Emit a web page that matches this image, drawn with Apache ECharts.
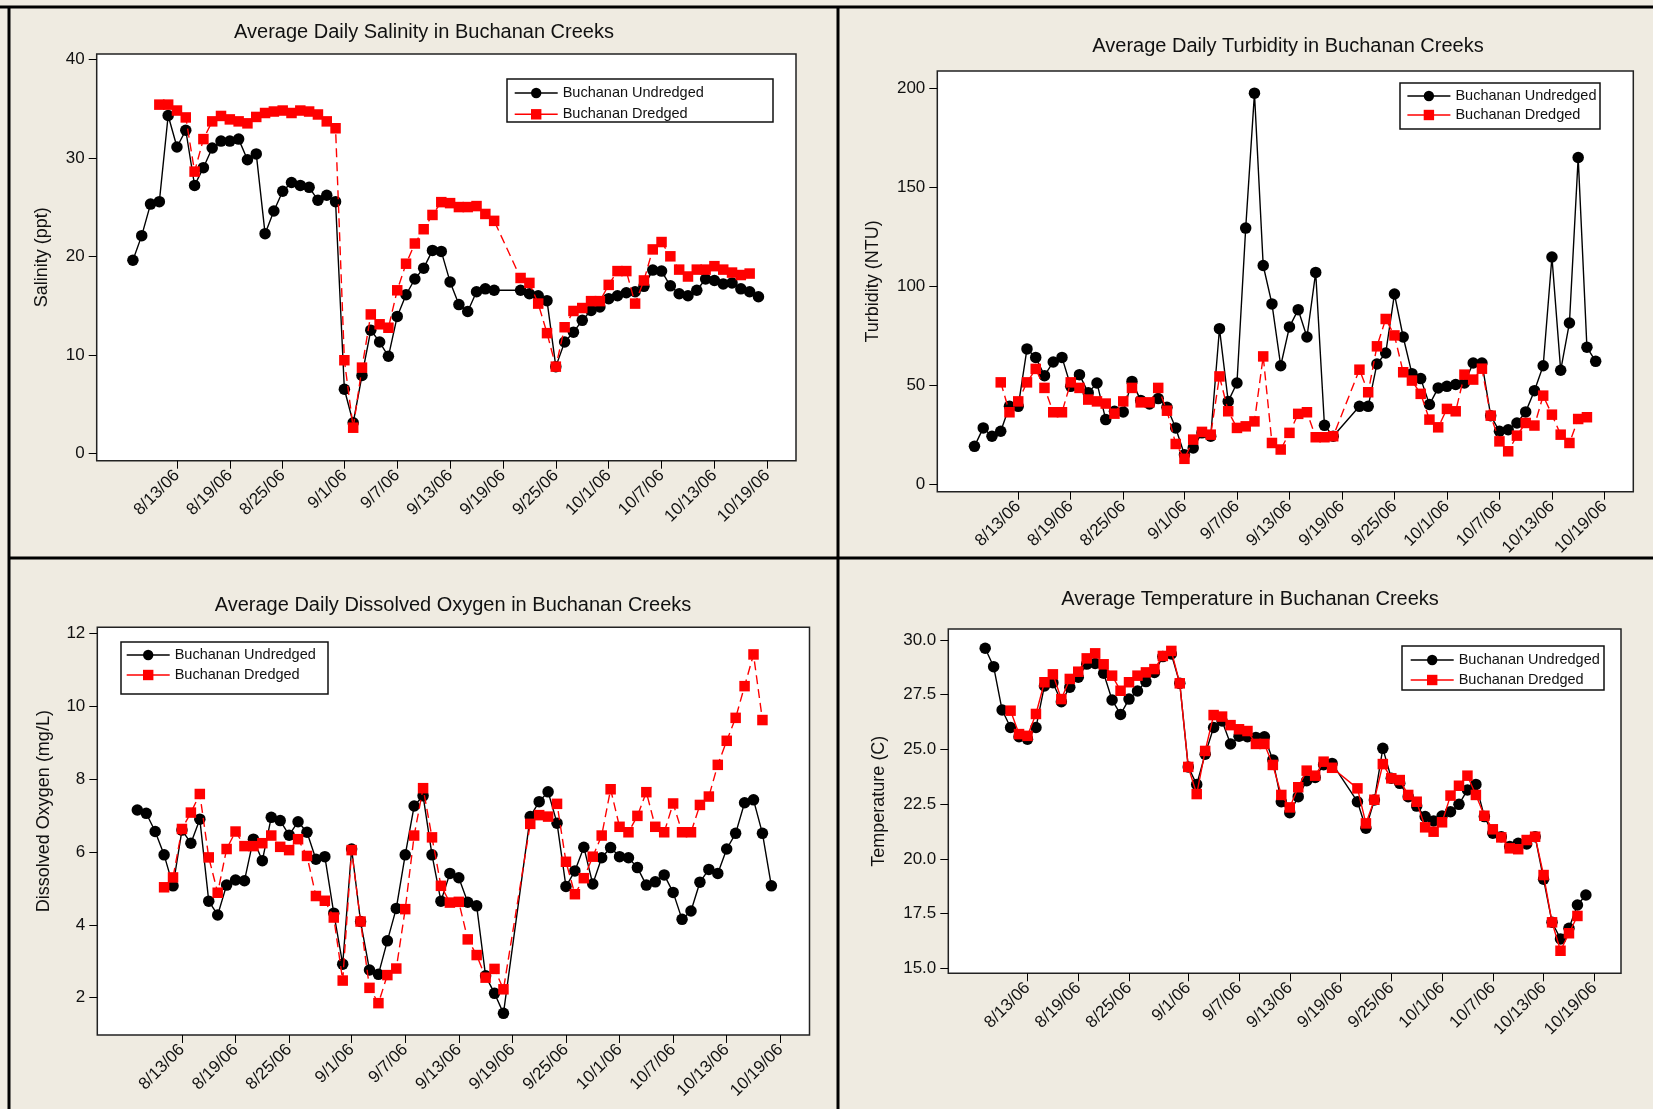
<!DOCTYPE html>
<html><head><meta charset="utf-8">
<script src="https://cdn.jsdelivr.net/npm/echarts@6/dist/echarts.min.js"></script>
<style>html,body{margin:0;padding:0;background:#efebe1;}#c{width:1653px;height:1109px;}</style>
</head><body><div id="c"></div>
<script>
// ---------- data ----------
const tickLabels = ['8/13/06','8/19/06','8/25/06','9/1/06','9/7/06','9/13/06','9/19/06','9/25/06','10/1/06','10/7/06','10/13/06','10/19/06'];
const undredgedDates = ['8/8','8/9','8/10','8/11','8/12','8/13','8/14','8/15','8/16','8/17','8/18','8/19','8/20','8/21','8/22','8/23','8/24','8/25','8/26','8/27','8/28','8/29','8/30','8/31',
 '9/1','9/2','9/3','9/4','9/5','9/6','9/7','9/8','9/9','9/10','9/11','9/12','9/13','9/14','9/15','9/16','9/17','9/18',
 '9/21','9/22','9/23','9/24','9/25','9/26','9/27','9/28','9/29','9/30','10/1','10/2','10/3','10/4','10/5','10/6','10/7','10/8','10/9','10/10','10/11','10/12','10/13','10/14','10/15','10/16','10/17','10/18'];
const dredgedDates = ['8/11','8/12','8/13','8/14','8/15','8/16','8/17','8/18','8/19','8/20','8/21','8/22','8/23','8/24','8/25','8/26','8/27','8/28','8/29','8/30','8/31',
 '9/1','9/2','9/3','9/4','9/5','9/6','9/7','9/8','9/9','9/10','9/11','9/12','9/13','9/14','9/15','9/16','9/17','9/18',
 '9/21','9/22','9/23','9/24','9/25','9/26','9/27','9/28','9/29','9/30','10/1','10/2','10/3','10/4','10/5','10/6','10/7','10/8','10/9','10/10','10/11','10/12','10/13','10/14','10/15','10/16','10/17'];

const salinityUndredged = [19.6,22.1,25.3,25.55,34.3,31.1,32.8,27.2,29.0,31.0,31.7,31.7,31.9,29.8,30.4,22.3,24.6,26.6,27.5,27.2,27.0,25.7,26.2,25.55,
 6.5,3.1,7.9,12.5,11.3,9.85,13.9,16.1,17.7,18.8,20.6,20.5,17.4,15.1,14.4,16.4,16.7,16.55,
 16.55,16.2,16.0,15.5,8.8,11.3,12.3,13.5,14.5,14.85,15.7,16.0,16.3,16.4,16.95,18.6,18.5,17.0,16.2,16.0,16.55,17.7,17.55,17.2,17.3,16.7,16.4,15.9];
const salinityDredged = [35.4,35.4,34.8,34.1,28.6,31.9,33.7,34.25,33.9,33.7,33.5,34.15,34.55,34.7,34.8,34.55,34.8,34.7,34.4,33.7,33.0,
 9.45,2.6,8.7,14.1,13.1,12.75,16.55,19.25,21.3,22.75,24.2,25.5,25.4,25.0,25.0,25.1,24.3,23.6,
 17.8,17.3,15.2,12.2,8.8,12.8,14.45,14.75,15.45,15.45,17.1,18.5,18.5,15.2,17.55,20.7,21.45,20.0,18.65,17.95,18.65,18.65,19.0,18.65,18.35,18.1,18.25];

const turbidityUndredged = [19.2,28.5,24.3,26.8,39.4,39.4,68.4,64.1,54.9,61.8,64.1,49.5,55.4,46.2,51.2,32.7,36.9,36.6,52.0,42.4,40.6,43.3,38.9,28.5,
 15.0,18.4,26.0,24.3,78.6,41.9,51.2,129.4,197.5,110.5,91.1,59.9,79.5,88.2,74.4,107.0,29.8,24.3,
 39.4,39.4,60.8,66.3,96.1,74.4,55.9,53.4,40.3,48.7,49.5,50.4,51.2,61.3,61.3,34.7,26.8,27.6,31.0,36.6,47.3,59.9,114.8,57.6,81.5,165.0,69.2,62.1];
const turbidityDredged = [51.5,36.4,41.9,51.5,58.3,48.7,36.4,36.4,51.5,48.7,42.8,41.9,40.8,35.7,41.9,48.7,41.4,41.4,48.7,37.2,20.4,
 12.9,22.6,26.5,25.1,54.5,36.9,28.5,29.3,31.8,64.6,20.9,17.6,26.0,35.6,36.4,23.8,23.8,24.3,
 57.9,46.5,69.7,83.5,75.2,56.6,52.4,45.7,32.7,28.8,38.1,36.9,55.4,52.9,58.4,34.7,21.7,16.7,24.6,31.0,29.7,44.8,35.2,25.1,20.9,33.0,33.9];

const oxygenUndredged = [7.15,7.06,6.56,5.92,5.07,6.6,6.24,6.9,4.65,4.27,5.09,5.23,5.21,6.35,5.76,6.95,6.86,6.46,6.83,6.54,5.8,5.87,4.32,2.92,
 6.08,4.09,2.76,2.64,3.56,4.45,5.92,7.26,7.54,5.92,4.65,5.41,5.29,4.62,4.52,2.6,2.12,1.57,
 6.97,7.38,7.65,6.79,5.05,5.48,6.13,5.12,5.84,6.12,5.87,5.84,5.57,5.09,5.18,5.37,4.89,4.15,4.38,5.17,5.52,5.41,6.08,6.51,7.35,7.43,6.51,5.07];
const oxygenDredged = [5.03,5.3,6.63,7.08,7.59,5.85,4.88,6.08,6.56,6.16,6.16,6.24,6.45,6.14,6.05,6.35,5.89,4.79,4.66,4.2,2.47,
 6.05,4.09,2.27,1.85,2.62,2.8,4.43,6.45,7.75,6.4,5.07,4.61,4.63,3.6,3.17,2.55,2.79,2.23,
 6.77,7.01,6.97,7.32,5.73,4.84,5.28,5.87,6.45,7.72,6.69,6.54,6.99,7.64,6.69,6.54,7.33,6.54,6.54,7.29,7.52,8.39,9.05,9.68,10.55,11.42,9.62];

const temperatureUndredged = [29.62,28.78,26.8,26.0,25.58,25.47,26.0,27.9,28.05,27.18,27.84,28.3,28.9,28.93,28.48,27.26,26.6,27.3,27.67,28.1,28.52,29.24,29.36,28.02,
 24.2,23.4,24.78,26.0,26.3,25.25,25.6,25.58,25.55,25.58,24.52,22.61,22.11,22.84,23.57,23.72,24.3,24.36,
 22.61,21.4,22.69,25.05,23.68,23.45,22.84,22.41,21.93,21.73,21.96,22.15,22.49,23.15,23.4,21.93,21.17,21.01,20.56,20.71,20.68,21.01,19.07,17.1,16.34,16.83,17.89,18.35];
const temperatureDredged = [26.77,25.7,25.62,26.62,28.07,28.43,27.3,28.22,28.55,29.16,29.39,28.89,28.37,27.68,28.07,28.37,28.52,28.67,29.27,29.5,28.02,
 24.2,22.96,24.93,26.57,26.5,26.11,25.92,25.84,25.25,25.25,24.29,22.92,22.35,23.27,24.03,23.8,24.44,24.16,
 23.22,21.62,22.7,24.33,23.68,23.6,22.92,22.61,21.44,21.24,21.67,22.89,23.34,23.8,22.92,21.97,21.35,20.98,20.48,20.44,20.86,21.01,19.26,17.1,15.8,16.6,17.39];

const salinityTicks = [0,10,20,30,40];
const turbidityTicks = [0,50,100,150,200];
const oxygenTicks = [2,4,6,8,10,12];
const temperatureTicks = [15,17.5,20,22.5,25,27.5,30];
const seriesNames = ['Buchanan Undredged','Buchanan Dredged'];

// ---------- helpers ----------
const BASE = Date.UTC(2006,7,13);
function dayOf(s){ const p = s.split('/'); return (Date.UTC(2006, +p[0]-1, +p[1]) - BASE)/864e5; }
const tickDays = tickLabels.map(dayOf);
function pairs(dates, vals){ return dates.map((d,i)=>[dayOf(d), vals[i]]); }

const FONT = "'Liberation Sans', Arial, sans-serif";

// ---------- layout ----------
const panels = [
 {grid:{left:96.7, top:54, width:699.3, height:406.7}, x:[-9.11,70.26], y:[-0.75,40.54], ticks:salinityTicks, dec:0,
  name:'Salinity (ppt)', nameGap:46, namePad:[0,0,0,0], title:'Average Daily Salinity in Buchanan Creeks', tx:424, ty:33,
  leg:{left:514, top:85.5, gap:6.3}, box:[507,79,266,43], dash:true, u:salinityUndredged, d:salinityDredged},
 {grid:{left:937.3, top:71, width:696, height:420.7}, x:[-9.25,70.3], y:[-3.7,208.7], ticks:turbidityTicks, dec:0,
  name:'Turbidity (NTU)', nameGap:55, namePad:[0,0,0,0], title:'Average Daily Turbidity in Buchanan Creeks', tx:1288, ty:47.5,
  leg:{left:1406.7, top:88.5, gap:4}, box:[1400,83,200,46], dash:true, u:turbidityUndredged, d:turbidityDredged},
 {grid:{left:97.3, top:627.3, width:712.2, height:407.7}, x:[-9.48,70.27], y:[0.976,12.165], ticks:oxygenTicks, dec:0,
  name:'Dissolved Oxygen (mg/L)', nameGap:44, namePad:[0,0,0,40], title:'Average Daily Dissolved Oxygen in Buchanan Creeks', tx:453, ty:606,
  leg:{left:126, top:647.5, gap:5}, box:[121,642,207,52], dash:true, u:oxygenUndredged, d:oxygenDredged},
 {grid:{left:948.3, top:629, width:672.7, height:344.3}, x:[-9.36,70.15], y:[14.77,30.502], ticks:temperatureTicks, dec:1,
  name:'Temperature (C)', nameGap:60, namePad:[0,0,0,0], title:'Average Temperature in Buchanan Creeks', tx:1250, ty:600,
  leg:{left:1410, top:652.5, gap:5}, box:[1402,646,202,44], dash:false, u:temperatureUndredged, d:temperatureDredged}
];

const option = {
  animation:false,
  backgroundColor:'#efebe1',
  textStyle:{fontFamily:FONT},
  title:[], grid:[], xAxis:[], yAxis:[], series:[], legend:[], graphic:[]
};

panels.forEach((p,i)=>{
  option.title.push({text:p.title, left:p.tx, top:p.ty-11, textAlign:'center', padding:0,
    textStyle:{fontFamily:FONT, fontSize:20, fontWeight:'normal', color:'#111'}});
  option.grid.push(Object.assign({show:true, backgroundColor:'#fff', borderColor:'#222', borderWidth:1.5}, p.grid));
  option.xAxis.push({type:'value', gridIndex:i, min:p.x[0], max:p.x[1],
    axisLine:{show:false, onZero:false}, splitLine:{show:false},
    axisTick:{show:true, inside:false, length:8, customValues:tickDays, lineStyle:{color:'#000', width:1}},
    axisLabel:{customValues:tickDays, rotate:45, margin:12, fontSize:17, color:'#111', fontFamily:FONT,
      formatter:(v)=>{ const k = tickDays.indexOf(Math.round(v)); return k>=0 ? tickLabels[k] : ''; }}});
  option.yAxis.push({type:'value', gridIndex:i, min:p.y[0], max:p.y[1],
    name:p.name, nameLocation:'middle', nameRotate:90, nameGap:p.nameGap,
    nameTextStyle:{fontSize:18, color:'#111', fontFamily:FONT, padding:p.namePad},
    axisLine:{show:false, onZero:false}, splitLine:{show:false},
    axisTick:{show:true, length:8, customValues:p.ticks, lineStyle:{color:'#000', width:1}},
    axisLabel:{customValues:p.ticks, margin:12, fontSize:17, color:'#111', fontFamily:FONT,
      formatter:(v)=> p.dec ? Number(v).toFixed(p.dec) : String(Math.round(v))}});
  option.series.push({name:seriesNames[0], type:'line', xAxisIndex:i, yAxisIndex:i,
    data:pairs(undredgedDates, p.u), symbol:'circle', symbolSize:11.5, showAllSymbol:true,
    itemStyle:{color:'#000'}, lineStyle:{color:'#000', width:1.4}, z:2});
  option.series.push({name:seriesNames[1], type:'line', xAxisIndex:i, yAxisIndex:i,
    data:pairs(dredgedDates, p.d), symbol:'rect', symbolSize:10.5, showAllSymbol:true,
    itemStyle:{color:'#ff0000'}, lineStyle:{color:'#ff0000', width:1.4, type:p.dash?[9,5]:'solid'}, z:3});
  option.legend.push({orient:'vertical', left:p.leg.left, top:p.leg.top, padding:0, itemGap:p.leg.gap,
    itemWidth:43, itemHeight:13, data:seriesNames, selectedMode:false, z:20,
    lineStyle:{type:'solid', width:1.4},
    textStyle:{fontSize:14.5, color:'#111', fontFamily:FONT}});
  option.graphic.push({type:'rect', shape:{x:p.box[0], y:p.box[1], width:p.box[2], height:p.box[3]},
    style:{fill:'#fff', stroke:'#111', lineWidth:1.5}, z:5, silent:true});
});

// panel frame lines
[[0,7,1653,7],[9,7,9,1109],[838,7,838,1109],[9,558,1653,558]].forEach(l=>{
  option.graphic.push({type:'line', shape:{x1:l[0],y1:l[1],x2:l[2],y2:l[3]}, style:{stroke:'#000', lineWidth:3}, z:10, silent:true});
});

const chart = echarts.init(document.getElementById('c'));
chart.setOption(option);
</script></body></html>
